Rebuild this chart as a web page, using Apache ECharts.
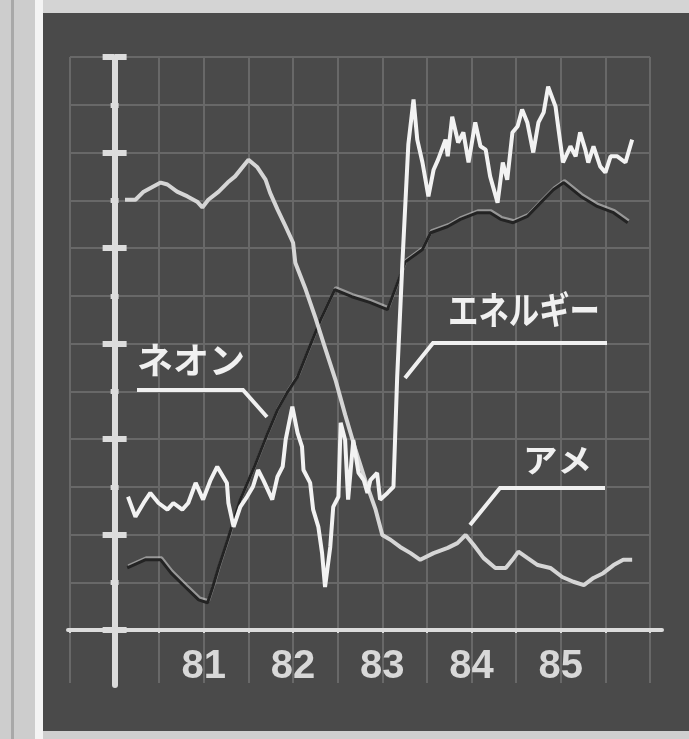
<!DOCTYPE html>
<html>
<head>
<meta charset="utf-8">
<script src="https://cdn.jsdelivr.net/npm/echarts@6/dist/echarts.min.js"></script>
<style>
html,body{margin:0;padding:0;background:#4a4a4a;}
#chart{width:689px;height:739px;}
</style>
</head>
<body>
<div id="chart"></div>
<script>
// ---- data (x in months since Jan 1980, y in axis units) ----
const yearLabels = ['81', '82', '83', '84', '85'];
const yearTickMonths = [12, 24, 36, 48, 60];

const energyMonths = [1.8,2.8,3.9,4.8,5.9,7.1,7.9,9.1,9.9,10.9,11.9,12.9,13.8,15.1,15.3,16.0,16.9,17.8,18.6,19.3,20.0,21.2,21.9,22.6,23.0,23.9,24.6,25.2,25.4,26.3,26.7,27.4,27.9,28.3,29.0,29.4,30.1,30.4,31.0,31.4,32.1,32.8,33.5,34.0,34.4,35.3,35.7,36.7,37.5,38.0,38.7,39.5,40.2,40.7,41.4,42.2,42.9,43.5,44.5,44.8,45.4,46.2,46.9,47.6,48.5,49.2,49.9,50.5,51.5,52.2,52.8,53.5,54.2,54.8,55.5,56.3,57.0,57.7,58.3,59.3,59.7,60.3,61.3,62.0,62.6,63.3,63.7,64.4,65.3,66.0,66.7,67.6,68.7,69.6];
const energyValues = [2.79,2.37,2.66,2.87,2.66,2.52,2.66,2.52,2.66,3.08,2.73,3.14,3.42,3.08,2.66,2.16,2.58,2.79,3.00,3.35,3.14,2.73,3.21,3.42,3.98,4.68,4.13,3.84,3.35,3.08,2.52,2.16,1.61,0.90,1.74,2.58,2.79,4.34,3.98,2.73,3.98,3.29,3.14,2.87,3.14,3.29,2.73,2.87,3.00,5.30,7.69,10.17,11.11,10.27,9.79,9.08,9.64,9.85,10.27,9.92,10.75,10.21,10.42,9.79,10.63,10.13,10.06,9.50,8.95,9.79,9.43,10.42,10.55,10.90,10.63,10.00,10.63,10.84,11.38,10.96,10.48,9.79,10.13,9.92,10.42,10.06,9.79,10.13,9.71,9.58,9.92,9.92,9.79,10.27];

const ameMonths = [1.4,2.8,3.9,6.2,7.1,8.4,9.8,11.1,11.8,12.6,14.0,15.2,16.2,18.0,19.2,20.3,20.9,21.9,23.0,24.0,24.3,25.7,27.0,28.3,29.7,31.0,32.4,33.7,35.1,36.0,37.1,38.4,39.8,41.1,42.9,44.8,46.1,47.2,48.3,49.6,51.2,52.6,53.5,54.3,55.5,56.9,58.6,60.2,61.7,63.1,64.4,65.7,67.1,68.4,69.6];
const ameValues = [9.01,9.01,9.18,9.37,9.33,9.18,9.08,8.97,8.85,9.01,9.18,9.37,9.50,9.85,9.69,9.43,9.16,8.81,8.45,8.11,7.69,7.13,6.54,5.91,5.24,4.51,3.77,3.14,2.52,1.99,1.89,1.74,1.61,1.47,1.61,1.72,1.82,1.99,1.78,1.51,1.30,1.30,1.47,1.64,1.51,1.36,1.30,1.11,1.01,0.94,1.09,1.19,1.36,1.47,1.47];

const neonMonths = [1.7,4.1,6.2,7.6,9.5,11.3,12.5,13.2,14.0,15.2,16.9,18.9,20.6,21.9,23.2,24.6,25.9,27.7,29.6,31.9,34.3,36.7,39.1,41.4,42.5,44.8,46.5,48.8,50.5,51.9,53.6,55.5,57.3,59.0,60.4,62.7,64.9,67.1,69.0];
const neonValues = [1.30,1.47,1.47,1.19,0.90,0.63,0.57,0.90,1.32,1.89,2.73,3.46,4.13,4.61,4.97,5.30,5.81,6.50,7.13,6.98,6.86,6.71,7.71,7.97,8.32,8.45,8.60,8.74,8.74,8.60,8.53,8.66,8.95,9.22,9.37,9.08,8.87,8.74,8.53];

const seriesNames = ['エネルギー', 'ネオン', 'アメ'];

function zip(xs, ys) { return xs.map((x, i) => [x, ys[i]]); }

// ---- styling ----
const AXIS = '#dcdcdc';
const GRIDLINE = '#686868';
const TEXT = '#f0f0f0';
const CJK = "'Noto Sans CJK JP', 'Noto Sans CJK SC', sans-serif";

const chart = echarts.init(document.getElementById('chart'), null, {renderer: 'canvas'});

const hiddenX = (grid) => ({type: 'value', gridIndex: grid, min: -6, max: 72, show: false,
  axisLine: {onZero: false}});
const hiddenY = (grid) => ({type: 'value', gridIndex: grid, min: 0, max: 1, show: false,
  axisLine: {onZero: false}});
const tickAxis = (inside) => ({
  type: 'value', gridIndex: 3, position: 'left', min: 0, max: 12, interval: 2,
  axisLine: {show: false, onZero: true, onZeroAxisIndex: 3},
  axisTick: {show: true, inside: inside, length: 12, lineStyle: {color: AXIS, width: 6}},
  minorTick: {show: true, splitNumber: 2, length: 4, lineStyle: {color: AXIS, width: 5}},
  axisLabel: {show: false}, splitLine: {show: false}
});

const option = {
  backgroundColor: '#4a4a4a',
  animation: false,
  grid: [
    {left: 70, right: 39, top: 57, bottom: 109},   // 0 data (x-axis at bottom edge)
    {left: 68, right: 27, top: 57, bottom: 109},   // 1 x-axis line extension
    {left: 70, right: 39, top: 58, bottom: 54},    // 2 y-axis line (crosses below x-axis)
    {left: 70, right: 39, top: 57, bottom: 109},   // 3 y-axis tick marks
    {left: 70, right: 39, top: 630, bottom: 56}    // 4 grid continuation below x-axis
  ],
  xAxis: [
    {
      type: 'value', gridIndex: 0, position: 'bottom', min: -6, max: 72, interval: 6,
      axisLine: {show: true, onZero: false, lineStyle: {color: AXIS, width: 4}},
      axisTick: {show: true, inside: false, length: 3, lineStyle: {color: AXIS, width: 2}},
      splitLine: {show: true, lineStyle: {color: GRIDLINE, width: 2}},
      axisLabel: {
        show: true, margin: 17, color: '#d8d8d8',
        fontFamily: "'Liberation Sans', sans-serif",
        fontSize: 40, fontWeight: 'bold',
        formatter: function (v) { const i = yearTickMonths.indexOf(v); return i >= 0 ? yearLabels[i] : ''; }
      }
    },
    {
      type: 'value', gridIndex: 1, position: 'bottom', min: 0, max: 1,
      axisLine: {show: true, onZero: false, lineStyle: {color: AXIS, width: 4}},
      axisTick: {show: false}, axisLabel: {show: false}, splitLine: {show: false}
    },
    hiddenX(2),
    hiddenX(3),
    {
      type: 'value', gridIndex: 4, min: -6, max: 72, interval: 6,
      axisLine: {show: false, onZero: false}, axisTick: {show: false}, axisLabel: {show: false},
      splitLine: {show: true, lineStyle: {color: GRIDLINE, width: 2}}
    }
  ],
  yAxis: [
    {
      type: 'value', gridIndex: 0, min: 0, max: 12, interval: 1,
      axisLine: {show: false, onZero: false},
      axisTick: {show: false}, axisLabel: {show: false},
      splitLine: {show: true, lineStyle: {color: GRIDLINE, width: 2}}
    },
    hiddenY(1),
    {
      type: 'value', gridIndex: 2, min: 0, max: 1,
      axisLine: {show: true, onZero: true, onZeroAxisIndex: 2, lineStyle: {color: AXIS, width: 6}},
      axisTick: {show: false}, axisLabel: {show: false}, splitLine: {show: false}
    },
    tickAxis(false),
    tickAxis(true),
    hiddenY(4)
  ],
  series: [
    {
      name: seriesNames[1], type: 'line', xAxisIndex: 0, yAxisIndex: 0,
      data: zip(neonMonths, neonValues), symbol: 'none', z: 3,
      lineStyle: {color: '#232323', width: 3, shadowColor: 'rgba(215,215,215,0.55)', shadowBlur: 0, shadowOffsetX: 1, shadowOffsetY: -2}
    },
    {
      name: seriesNames[2], type: 'line', xAxisIndex: 0, yAxisIndex: 0,
      data: zip(ameMonths, ameValues), symbol: 'none', z: 4,
      lineStyle: {color: '#d6d6d6', width: 4}
    },
    {
      name: seriesNames[0], type: 'line', xAxisIndex: 0, yAxisIndex: 0,
      data: zip(energyMonths, energyValues), symbol: 'none', z: 5,
      lineStyle: {color: '#f2f2f2', width: 4}
    }
  ],
  graphic: [
    // frame strips
    {type: 'rect', z: 100, shape: {x: 0, y: 0, width: 689, height: 13}, style: {fill: '#d4d4d4'}},
    {type: 'rect', z: 100, shape: {x: 0, y: 731, width: 689, height: 8}, style: {fill: '#cfcfcf'}},
    {type: 'rect', z: 101, shape: {x: 0, y: 0, width: 36, height: 739}, style: {fill: '#cdcdcd'}},
    {type: 'rect', z: 101, shape: {x: 11, y: 0, width: 3, height: 739}, style: {fill: '#a8a8a8'}},
    {type: 'rect', z: 101, shape: {x: 35, y: 0, width: 8, height: 739}, style: {fill: '#f4f4f4'}},
    // annotations
    {type: 'text', z: 120, x: 137, y: 342, style: {text: seriesNames[1], fill: TEXT, font: "bold 36px " + CJK, textVerticalAlign: 'top'}},
    {type: 'polyline', z: 120, shape: {points: [[137, 390], [243, 390], [267, 417]]}, style: {stroke: TEXT, lineWidth: 4, fill: null}},
    {type: 'text', z: 120, x: 448, y: 291, scaleX: 0.8, style: {text: seriesNames[0], fill: TEXT, font: "bold 38px " + CJK, textVerticalAlign: 'top'}},
    {type: 'polyline', z: 120, shape: {points: [[607, 343], [433, 343], [405, 378]]}, style: {stroke: TEXT, lineWidth: 4, fill: null}},
    {type: 'text', z: 120, x: 523, y: 444, scaleX: 1.08, style: {text: seriesNames[2], fill: TEXT, font: "bold 32px " + CJK, textVerticalAlign: 'top'}},
    {type: 'polyline', z: 120, shape: {points: [[605, 488], [500, 488], [470, 525]]}, style: {stroke: TEXT, lineWidth: 4, fill: null}}
  ]
};
chart.setOption(option);
</script>
</body>
</html>
